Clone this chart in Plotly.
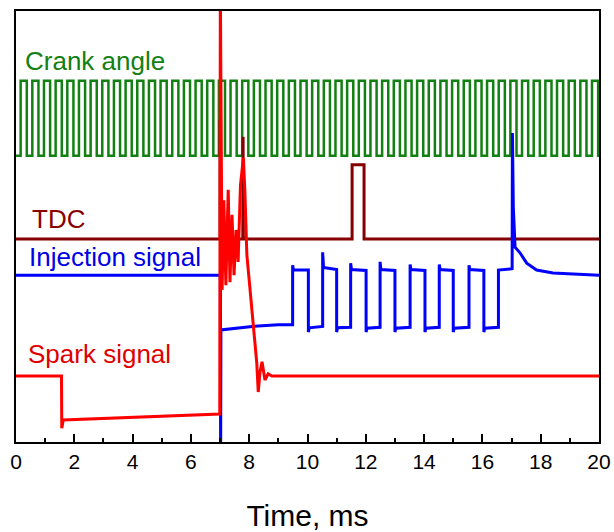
import plotly.graph_objects as go

# ---------------- data (time in ms, signal in arbitrary units 0-10) ----------------
crank_rise = [0.16, 0.56, 0.96, 1.36, 1.76, 2.16, 2.56, 2.96, 3.36, 3.76,
              4.16, 4.56, 4.96, 5.36, 5.76, 6.16, 6.56, 6.96, 7.36, 7.76,
              8.16, 8.56, 8.96, 9.36, 9.76, 10.16, 10.56, 10.96, 11.36, 11.76,
              12.16, 12.56, 12.96, 13.36, 13.76, 14.16, 14.56, 14.96, 15.36, 15.76,
              16.16, 16.56, 16.96, 17.36, 17.76, 18.16, 18.56, 18.96, 19.36, 19.76]
crank_fall = [0.37, 0.77, 1.17, 1.57, 1.97, 2.37, 2.77, 3.17, 3.57, 3.97,
              4.37, 4.77, 5.17, 5.57, 5.97, 6.37, 6.77, 7.17, 7.57, 7.97,
              8.37, 8.77, 9.17, 9.57, 9.97, 10.37, 10.77, 11.17, 11.57, 11.97,
              12.37, 12.77, 13.17, 13.57, 13.97, 14.37, 14.77, 15.17, 15.57, 15.97,
              16.37, 16.77, 17.17, 17.57, 17.97, 18.37, 18.77, 19.17, 19.57, 19.97]
crank_high = 8.38
crank_low = 6.64
crank_spike_t = 7.01
crank_spike_v = 5.55

tdc_t = [0.0, 7.00, 7.00, 7.03, 7.78, 7.79, 7.80, 11.53, 11.53, 11.94, 11.94, 20.0]
tdc_v = [4.71, 4.71, 7.47, 4.71, 4.71, 7.08, 4.71, 4.71, 6.43, 6.43, 4.71, 4.71]

inj_t = [0.0, 7.01, 7.02, 7.03, 8.10, 9.00, 9.49,
         9.49, 9.52, 10.03, 10.03, 10.06, 10.52,
         10.52, 10.55, 11.00, 11.00, 11.03, 11.48,
         11.48, 11.51, 12.01, 12.01, 12.04, 12.49,
         12.49, 12.52, 13.00, 13.00, 13.03, 13.52,
         13.52, 13.55, 14.03, 14.03, 14.06, 14.52,
         14.52, 14.55, 15.00, 15.00, 15.03, 15.54,
         15.54, 15.57, 16.05, 16.05, 16.08, 16.55,
         16.55, 17.02, 17.03, 17.06, 17.12, 17.29, 17.52, 17.86, 18.42, 20.0]
inj_v = [3.87, 3.87, -0.5, 2.60, 2.68, 2.72, 2.72,
         4.10, 3.99, 3.99, 2.55, 2.65, 2.68,
         4.40, 4.05, 4.00, 2.55, 2.65, 2.66,
         4.15, 4.00, 3.98, 2.55, 2.64, 2.66,
         4.18, 4.00, 3.98, 2.55, 2.64, 2.66,
         4.12, 4.00, 3.98, 2.55, 2.64, 2.66,
         4.12, 4.00, 3.98, 2.55, 2.64, 2.66,
         4.10, 4.00, 3.98, 2.55, 2.64, 2.66,
         3.99, 4.02, 7.17, 5.45, 4.52, 4.39, 4.15, 3.99, 3.92, 3.87]

spark_t = [0.0, 1.56, 1.57, 1.62, 6.99, 7.01, 7.07, 7.13, 7.20, 7.28, 7.34,
           7.41, 7.48, 7.55, 7.62, 7.70, 7.80, 7.85, 7.92, 8.10, 8.26,
           8.31, 8.37, 8.44, 8.54, 8.65, 8.78, 20.0]
spark_v = [1.53, 1.53, 0.32, 0.51, 0.65, 10.6, 3.53, 5.61, 3.64, 5.85, 3.71,
           5.27, 3.87, 4.92, 4.18, 5.96, 6.59, 5.85, 4.34, 3.06, 1.83,
           1.16, 1.62, 1.86, 1.44, 1.58, 1.53, 1.53]

labels = ["Crank angle", "TDC", "Injection signal", "Spark signal"]
label_t = [0.24, 0.47, 0.37, 0.34]
label_v = [8.84, 5.17, 4.29, 2.04]

x_ticks = [0, 2, 4, 6, 8, 10, 12, 14, 16, 18, 20]

# ---------------- build crank trace ----------------
cx, cy = [0.0], [crank_low]
for r, f in zip(crank_rise, crank_fall):
    cx += [r, r]
    cy += [crank_low, crank_high]
    if r < crank_spike_t < f:
        cx += [crank_spike_t, crank_spike_t, crank_spike_t + 0.01]
        cy += [crank_high, crank_spike_v, crank_high]
    cx += [f, f]
    cy += [crank_high, crank_low]
cx.append(20.0)
cy.append(crank_low)

GREEN = "#128012"
DKRED = "#850000"
BLUE = "#0000ff"
RED = "#ff0000"
FONT = "Liberation Sans, Arial, sans-serif"

fig = go.Figure()
fig.add_trace(go.Scatter(x=cx, y=cy, mode="lines", line=dict(color=GREEN, width=2.5), name="Crank angle"))
fig.add_trace(go.Scatter(x=tdc_t, y=tdc_v, mode="lines", line=dict(color=DKRED, width=3), name="TDC"))
fig.add_trace(go.Scatter(x=inj_t, y=inj_v, mode="lines", line=dict(color=BLUE, width=3), name="Injection signal"))
fig.add_trace(go.Scatter(x=spark_t, y=spark_v, mode="lines", line=dict(color=RED, width=3), name="Spark signal"))

label_colors = [GREEN, "#8a0000", "#0000e6", "#e00000"]
for txt, t, v, c in zip(labels, label_t, label_v, label_colors):
    fig.add_annotation(x=t, y=v, text=txt, showarrow=False, xanchor="left", yanchor="middle",
                       font=dict(family=FONT, size=26, color=c))

fig.update_layout(
    width=614, height=532,
    margin=dict(l=16, r=15, t=11, b=90, autoexpand=False),
    paper_bgcolor="white", plot_bgcolor="white",
    showlegend=False,
    font=dict(family=FONT, color="black"),
)
fig.update_xaxes(
    range=[0, 20], tickvals=x_ticks, ticktext=[str(v) for v in x_ticks],
    ticks="inside", ticklen=8, tickwidth=2, tickcolor="black",
    minor=dict(ticks="inside", ticklen=4, tickwidth=2, tickcolor="black", dtick=1),
    showline=True, linecolor="black", linewidth=2, mirror=True,
    showgrid=False, zeroline=False, automargin=False,
    tickfont=dict(family=FONT, size=21, color="black"),
    title=dict(text="Time, ms", font=dict(family=FONT, size=30, color="black"), standoff=33),
)
fig.update_yaxes(
    range=[0, 10], showticklabels=False, ticks="",
    showline=True, linecolor="black", linewidth=2, mirror=True,
    showgrid=False, zeroline=False, automargin=False,
)

fig.write_html("out.html")
